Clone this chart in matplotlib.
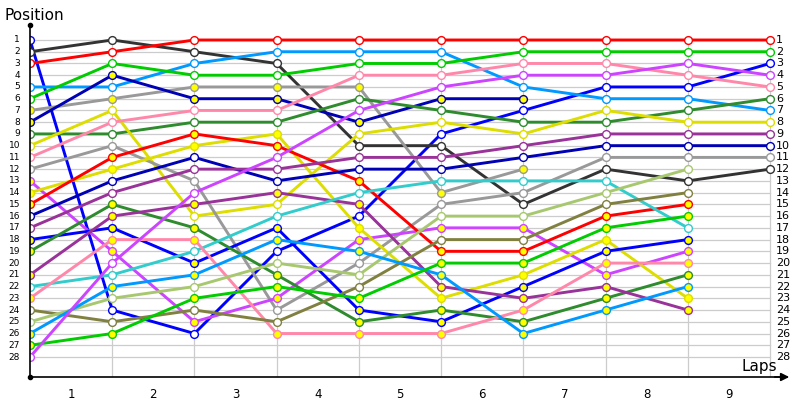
import matplotlib
matplotlib.use("Agg")
import matplotlib.pyplot as plt

# ---- data: position of each driver after each lap (lap 0 = start) ----
laps = list(range(10))
lap_labels = ["1", "2", "3", "4", "5", "6", "7", "8", "9"]
positions_axis = list(range(1, 29))

d01 = [1, 24, 26, 19, 16, 9, 7, 5, 5, 3]
d02 = [2, 1, 2, 3, 10, 10, 15, 12, 13, 12]
d03 = [3, 2, 1, 1, 1, 1, 1, 1, 1, 1]
d05 = [5, 5, 3, 2, 2, 2, 5, 6, 6, 7]
d06 = [6, 3, 4, 4, 3, 3, 2, 2, 2, 2]
d07 = [7, 6, 5, 5, 5, 14, 12]
d08 = [8, 4, 6, 6, 8, 6, 6]
d09 = [9, 9, 8, 8, 6, 7, 8, 8, 7, 6]
d10 = [10, 7, 16, 15, 9, 8, 9, 7, 8, 8]
d11 = [11, 8, 7, 7, 4, 4, 3, 3, 4, 5]
d12 = [12, 10, 13, 24, 20, 15, 14, 11, 11, 11]
d13 = [13, 19, 25, 23, 18, 17, 17, 21, 19]
d14 = [14, 12, 10, 9, 17, 23, 21, 18, 23]
d15 = [15, 11, 9, 10, 13, 19, 19, 16, 15]
d16 = [16, 13, 11, 13, 12, 12, 11, 10, 10, 10]
d17 = [17, 14, 12, 12, 11, 11, 10, 9, 9, 9]
d18 = [18, 17, 20, 17, 24, 25, 22, 19, 18]
d19 = [19, 15, 17, 21, 25, 24, 25, 23, 21]
d21 = [21, 16, 15, 14, 15, 22, 23, 22, 24]
d22 = [22, 21, 19, 16, 14, 13, 13, 13, 17]
d23 = [23, 18, 18, 26, 26, 26, 24, 20, 20]
d24 = [24, 25, 24, 25, 22, 18, 18, 15, 14]
d25 = [25, 23, 22, 20, 21, 16, 16, 14, 12]
d26 = [26, 22, 21, 18, 19, 21, 26, 24, 22]
d27 = [27, 26, 23, 22, 23, 20, 20, 17, 16]
d28 = [28, 20, 14, 11, 7, 5, 4, 4, 3, 4]

drivers = [d01, d02, d03, d05, d06, d07, d08, d09, d10, d11, d12, d13, d14,
           d15, d16, d17, d18, d19, d21, d22, d23, d24, d25, d26, d27, d28]

# ---- styles ----
colors = ["#0000ff", "#333333", "#ff0000", "#0099ff", "#00cc00", "#999999",
          "#0000b4", "#2e8b2e", "#dddd00", "#ff88aa", "#999999", "#cc44ff",
          "#dddd00", "#ff0000", "#0000b4", "#993399", "#0000ff", "#2e8b2e",
          "#993399", "#33cccc", "#ff88aa", "#808040", "#a8c870", "#0099ff",
          "#00cc00", "#cc44ff"]
filled = [False, False, False, False, False, True, True, False, False, False,
          False, True, True, True, False, False, True, True, True, False,
          True, False, False, True, True, False]

W, H = 800, 400
fig = plt.figure(figsize=(8, 4), dpi=100)
fig.patch.set_facecolor("white")

# pixel geometry
x0_px, dx_px = 30.0, 740.0 / 9
y1_px, dy_px = 40.0, (357.0 - 40.0) / 27
ax_left, ax_right, ax_top, ax_bot = 30, 792, 20, 377
ax = fig.add_axes([ax_left / W, 1 - ax_bot / H, (ax_right - ax_left) / W, (ax_bot - ax_top) / H])

def px_to_x(px):
    return (px - x0_px) / dx_px

def py_to_y(py):
    return 1 + (py - y1_px) / dy_px

ax.set_xlim(px_to_x(ax_left), px_to_x(ax_right))
ax.set_ylim(py_to_y(ax_bot), py_to_y(ax_top))
ax.axis("off")

# grid
for p in positions_axis:
    ax.plot([0, 9], [p, p], color="#cccccc", lw=0.9, zorder=1)
for lx in laps[1:]:
    ax.plot([lx, lx], [1, py_to_y(ax_bot)], color="#cccccc", lw=0.9, zorder=1)

# axes lines
ax.plot([0, 0], [py_to_y(25), py_to_y(ax_bot)], color="black", lw=1.2, zorder=5, clip_on=False)
ax.plot([0, px_to_x(782)], [py_to_y(ax_bot)] * 2, color="black", lw=1.2, zorder=5, clip_on=False)
ax.plot([0], [py_to_y(25)], marker="o", ms=3, color="black", zorder=6, clip_on=False)
ax.plot([0], [py_to_y(ax_bot)], marker="o", ms=3, color="black", zorder=6, clip_on=False)
ax.annotate("", xy=(px_to_x(792), py_to_y(ax_bot)), xytext=(px_to_x(772), py_to_y(ax_bot)),
            arrowprops=dict(arrowstyle="-|>", color="black", lw=1.2, mutation_scale=12),
            annotation_clip=False, zorder=6)

# driver lines
for pos, col, fill in zip(drivers, colors, filled):
    xs = laps[:len(pos)]
    ax.plot(xs, pos, color=col, lw=2.1, zorder=3, solid_capstyle="round")
    ax.plot(xs, pos, linestyle="none", marker="o", ms=5.6, mew=1.0,
            mec=col, mfc="#ffff00" if fill else "white", zorder=4)

# position labels left and right
for p in positions_axis:
    ax.text(px_to_x(20), p, str(p), ha="right", va="center", fontsize=6.5,
            color="black", clip_on=False)
    ax.text(px_to_x(776), p, str(p), ha="left", va="center", fontsize=8,
            color="black", clip_on=False)

# lap labels between columns
for i, lab in enumerate(lap_labels):
    ax.text(i + 0.5, py_to_y(395), lab, ha="center", va="center", fontsize=8.5,
            color="black", clip_on=False)

ax.text(px_to_x(4), py_to_y(15), "Position", ha="left", va="center", fontsize=11,
        color="black", clip_on=False)
ax.text(px_to_x(742), py_to_y(366), "Laps", ha="left", va="center", fontsize=11,
        color="black", clip_on=False)

fig.savefig("out.png", dpi=100)
